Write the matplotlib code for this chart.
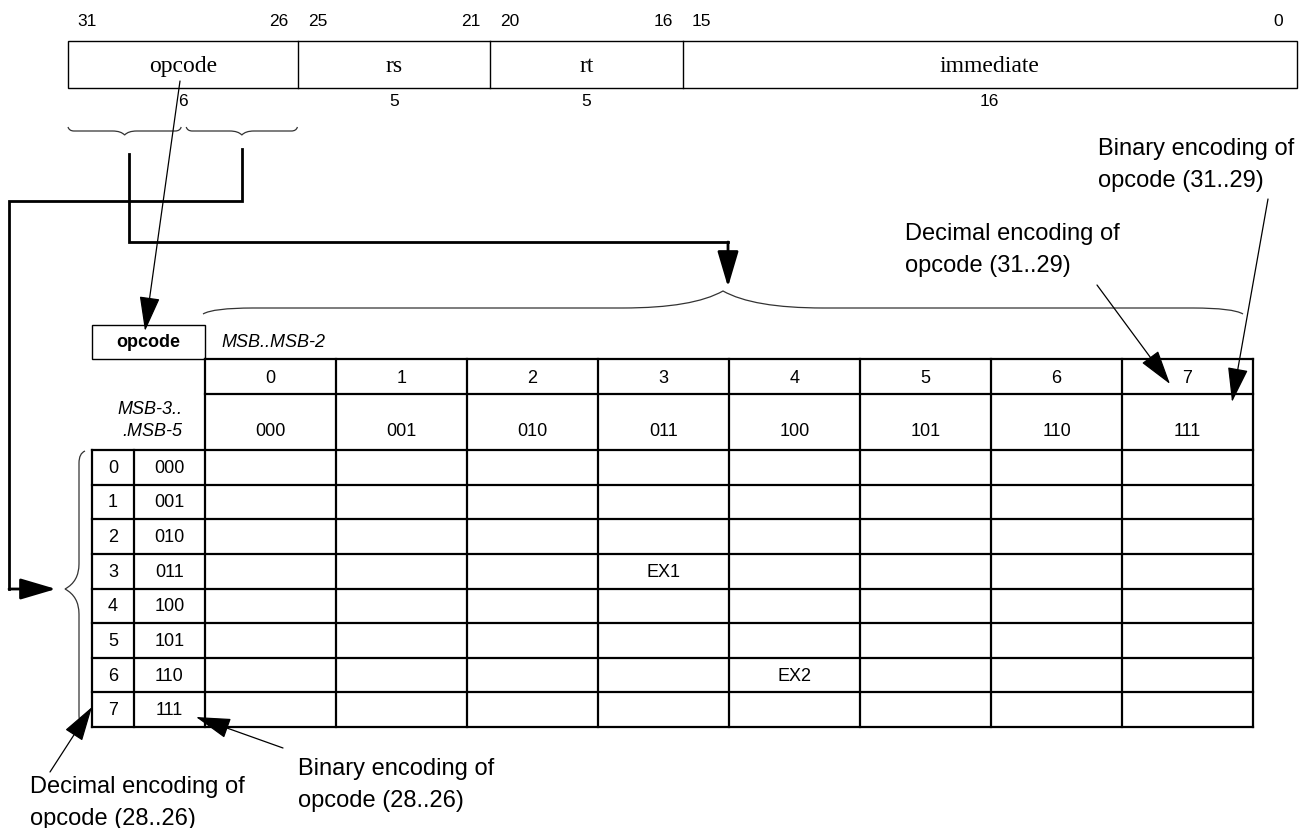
import matplotlib.pyplot as plt
from matplotlib.path import Path
from matplotlib.patches import PathPatch, Rectangle

# instruction format
field_names = ['opcode', 'rs', 'rt', 'immediate']
field_bits = [6, 5, 5, 16]

# opcode table labels
col_dec = ['0', '1', '2', '3', '4', '5', '6', '7']
col_bin = ['000', '001', '010', '011', '100', '101', '110', '111']
row_dec = ['0', '1', '2', '3', '4', '5', '6', '7']
row_bin = ['000', '001', '010', '011', '100', '101', '110', '111']
cell_rows = [3, 6]
cell_cols = [3, 4]
cell_text = ['EX1', 'EX2']

SANS = 'Liberation Sans'
SERIF = 'Liberation Serif'

fig = plt.figure(figsize=(13.08, 8.29), dpi=100)
ax = fig.add_axes([0, 0, 1, 1])
ax.set_xlim(0, 1308)
ax.set_ylim(829, 0)
ax.axis('off')


def brace(u0, u1, v, depth, curl, r_end, r_mid, vertical=False):
    um = (u0 + u1) / 2
    pts = [(u0, v + curl),
           (u0 + 0.2 * r_end, v), (u0 + r_end, v),
           (um - r_mid, v),
           (um - 0.3 * r_mid, v), (um, v - depth),
           (um + 0.3 * r_mid, v), (um + r_mid, v),
           (u1 - r_end, v),
           (u1 - 0.2 * r_end, v), (u1, v + curl)]
    codes = [Path.MOVETO, Path.CURVE3, Path.CURVE3, Path.LINETO,
             Path.CURVE3, Path.CURVE3, Path.CURVE3, Path.CURVE3,
             Path.LINETO, Path.CURVE3, Path.CURVE3]
    if vertical:
        pts = [(b, a) for a, b in pts]
    ax.add_patch(PathPatch(Path(pts, codes), fc='none', ec='#333333', lw=0.9))


def arrow(start, tip, lw):
    ax.annotate('', xy=tip, xytext=start,
                arrowprops=dict(arrowstyle='-|>,head_length=2.2,head_width=0.65',
                                mutation_scale=10, lw=lw, color='black',
                                fc='black', shrinkA=0, shrinkB=0))


# ---- instruction word ----
bx0, bx1, by0, by1 = 68, 1297, 42, 89
bw = (bx1 - bx0) / 32
ax.add_patch(Rectangle((bx0, by0), bx1 - bx0, by1 - by0, fill=False, lw=1.0, ec='black'))
hi = 31
for name, nb in zip(field_names, field_bits):
    lo = hi - nb + 1
    xl = bx0 + (31 - hi) * bw
    xr = bx0 + (32 - lo) * bw
    if lo > 0:
        ax.plot([xr, xr], [by0, by1], color='black', lw=1.0)
    ax.text((xl + xr) / 2, 66, name, ha='center', va='center', family=SERIF, fontsize=17)
    ax.text((xl + xr) / 2, 101, str(nb), ha='center', va='center', family=SANS, fontsize=12.5)
    ax.text(xl + bw / 2, 21, str(hi), ha='center', va='center', family=SANS, fontsize=12.5)
    ax.text(xr - bw / 2, 21, str(lo), ha='center', va='center', family=SANS, fontsize=12.5)
    hi = lo - 1

# small braces under opcode
mid = bx0 + 3 * bw
brace(bx0, mid - 2, 132, -4, -4, 6, 12)
brace(mid + 3, bx0 + 6 * bw - 1, 132, -4, -4, 6, 12)

# connectors
ax.plot([129, 129, 728], [155, 243, 243], color='black', lw=2.0, solid_joinstyle='miter')
arrow((728, 243), (728, 288), 2.0)
ax.plot([242, 242, 9, 9], [150, 202, 202, 590], color='black', lw=2.0, solid_joinstyle='miter')
arrow((9, 590), (56, 590), 2.0)

# pointer from opcode field to opcode box
arrow((180, 82), (145, 332), 0.9)

# big brace over the columns
brace(203, 1243, 309, 17, 6, 50, 100)
# vertical brace left of rows
brace(452, 728, 79, 14, 6, 12, 25, vertical=True)

# ---- opcode table ----
tx0, cw = 205, 131
ncol = len(col_dec)
tx1 = tx0 + ncol * cw
y_top, y_h1, y_h2 = 360, 395, 451
rh = (728 - y_h2) / len(row_dec)
y_bot = y_h2 + len(row_dec) * rh
lx0, lx1 = 92, 134
tlw = 1.6

ax.add_patch(Rectangle((lx0, 326), tx0 - lx0, y_top - 326, fill=False, lw=1.0, ec='black'))
ax.text((lx0 + tx0) / 2, 342, 'opcode', ha='center', va='center', family=SANS,
        fontsize=13, fontweight='bold')
ax.text(221, 342, 'MSB..MSB-2', ha='left', va='center', family=SANS, fontsize=13, style='italic')
ax.text(182, 410, 'MSB-3..', ha='right', va='center', family=SANS, fontsize=13, style='italic')
ax.text(182, 432, '.MSB-5', ha='right', va='center', family=SANS, fontsize=13, style='italic')

for y in [y_top, y_h1]:
    ax.plot([tx0, tx1], [y, y], color='black', lw=tlw)
for i in range(len(row_dec) + 1):
    y = y_h2 + i * rh
    ax.plot([lx0, tx1], [y, y], color='black', lw=tlw)
for x in [lx0, lx1]:
    ax.plot([x, x], [y_h2, y_bot], color='black', lw=tlw)
for j in range(ncol + 1):
    x = tx0 + j * cw
    ax.plot([x, x], [y_top, y_bot], color='black', lw=tlw)

for j in range(ncol):
    xc = tx0 + (j + 0.5) * cw
    ax.text(xc, 378, col_dec[j], ha='center', va='center', family=SANS, fontsize=13)
    ax.text(xc, 432, col_bin[j], ha='center', va='center', family=SANS, fontsize=13)
for i in range(len(row_dec)):
    yc = y_h2 + (i + 0.5) * rh
    ax.text((lx0 + lx1) / 2, yc, row_dec[i], ha='center', va='center', family=SANS, fontsize=13)
    ax.text((lx1 + tx0) / 2, yc, row_bin[i], ha='center', va='center', family=SANS, fontsize=13)
for r, c, t in zip(cell_rows, cell_cols, cell_text):
    ax.text(tx0 + (c + 0.5) * cw, y_h2 + (r + 0.5) * rh, t, ha='center', va='center',
            family=SANS, fontsize=13)

# ---- annotations ----
ann = dict(ha='left', va='center', family=SANS, fontsize=17, linespacing=1.55)
ax.text(1098, 165, 'Binary encoding of\nopcode (31..29)', **ann)
arrow((1268, 200), (1232, 403), 0.9)
ax.text(905, 250, 'Decimal encoding of\nopcode (31..29)', **ann)
arrow((1097, 286), (1170, 385), 0.9)
ax.text(298, 785, 'Binary encoding of\nopcode (28..26)', **ann)
arrow((283, 749), (196, 718), 0.9)
ax.text(30, 803, 'Decimal encoding of\nopcode (28..26)', **ann)
arrow((50, 773), (92, 708), 0.9)

fig.savefig('out.png', dpi=100)
